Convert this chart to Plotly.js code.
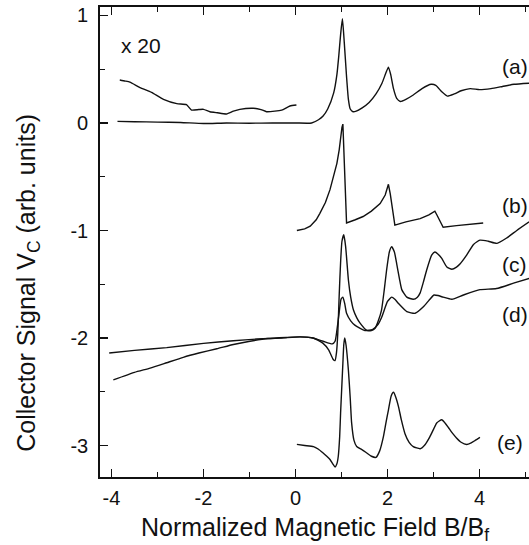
<!DOCTYPE html>
<html>
<head>
<meta charset="utf-8">
<script src="https://cdn.plot.ly/plotly-3.0.1.min.js"></script>
<style>html,body{margin:0;padding:0;background:#fff;overflow:hidden}</style>
</head>
<body>
<div id="chart" style="width:529px;height:545px"></div>
<script>
// Curve (a), main trace
const aX = [-3.87,-3.5,-3.0,-2.5,-2.0,-1.5,-1.0,-0.5,0.0,0.35,0.5,0.6,0.7,0.83,0.9,0.94,0.98,1.02,1.06,1.11,1.15,1.19,1.25,1.32,1.45,1.6,1.75,1.88,1.96,2.02,2.07,2.13,2.2,2.28,2.4,2.56,2.75,2.95,3.05,3.18,3.3,3.45,3.6,3.8,4.0,4.25,4.5,4.75,5.08];
const aY = [0.015,0.012,0.008,0.005,-0.005,0.0,-0.002,0.0,0.0,0.0,0.03,0.065,0.13,0.28,0.45,0.62,0.82,0.97,0.75,0.43,0.22,0.13,0.105,0.11,0.14,0.19,0.27,0.37,0.46,0.52,0.45,0.32,0.23,0.20,0.22,0.26,0.32,0.36,0.35,0.29,0.25,0.27,0.30,0.32,0.31,0.32,0.34,0.36,0.37];
// Curve (a), x20 magnified part
const a20X = [-3.82,-3.7,-3.6,-3.38,-3.13,-2.87,-2.58,-2.37,-2.26,-2.1,-2.0,-1.86,-1.7,-1.5,-1.35,-1.21,-0.92,-0.75,-0.63,-0.45,-0.30,-0.12,0.02];
const a20Y = [0.40,0.39,0.38,0.33,0.285,0.22,0.18,0.17,0.12,0.125,0.127,0.105,0.095,0.084,0.11,0.127,0.137,0.125,0.105,0.11,0.12,0.158,0.167];
// Curve (b)
const bX = [0.03,0.2,0.32,0.45,0.53,0.65,0.75,0.84,0.90,0.95,0.98,1.01,1.03,1.06,1.11,1.3,1.47,1.65,1.84,1.95,2.02,2.06,2.16,2.4,2.71,2.9,3.03,3.08,3.21,3.5,3.8,4.08];
const bY = [-1.0,-0.985,-0.96,-0.9,-0.84,-0.74,-0.62,-0.48,-0.375,-0.25,-0.13,-0.04,-0.01,-0.4,-0.93,-0.9,-0.87,-0.82,-0.75,-0.67,-0.57,-0.66,-0.95,-0.92,-0.89,-0.855,-0.82,-0.86,-0.97,-0.955,-0.94,-0.93];
// Curve (c)
const cX = [-3.96,-3.5,-3.16,-2.8,-2.44,-2.1,-1.71,-1.35,-0.99,-0.6,-0.2,0.1,0.38,0.6,0.72,0.82,0.86,0.89,0.92,0.95,0.98,1.01,1.05,1.09,1.15,1.2,1.26,1.33,1.40,1.55,1.65,1.73,1.8,1.87,1.93,1.98,2.04,2.09,2.15,2.20,2.26,2.31,2.42,2.56,2.65,2.71,2.78,2.85,2.96,3.03,3.1,3.18,3.29,3.40,3.5,3.58,3.72,3.87,4.01,4.19,4.38,4.59,4.81,5.08];
const cY = [-2.39,-2.32,-2.28,-2.23,-2.18,-2.14,-2.10,-2.06,-2.03,-2.005,-1.995,-1.99,-2.0,-2.05,-2.11,-2.2,-2.21,-2.14,-1.95,-1.60,-1.30,-1.10,-1.04,-1.15,-1.46,-1.62,-1.74,-1.81,-1.86,-1.93,-1.93,-1.91,-1.84,-1.74,-1.55,-1.37,-1.2,-1.15,-1.2,-1.31,-1.45,-1.55,-1.62,-1.64,-1.62,-1.58,-1.48,-1.37,-1.23,-1.20,-1.22,-1.26,-1.34,-1.36,-1.34,-1.31,-1.23,-1.13,-1.09,-1.10,-1.12,-1.07,-1.0,-0.92];
// Curve (d)
const dX = [-4.05,-3.5,-2.8,-2.0,-1.35,-0.84,-0.3,0.1,0.38,0.6,0.8,0.86,0.9,0.95,0.99,1.03,1.07,1.11,1.2,1.29,1.51,1.68,1.8,1.88,2.0,2.09,2.16,2.24,2.42,2.6,2.78,2.9,3.01,3.1,3.21,3.40,3.65,4.01,4.37,4.74,5.08];
const dY = [-2.14,-2.115,-2.09,-2.05,-2.025,-2.01,-2.0,-1.99,-2.0,-2.03,-2.055,-2.03,-1.93,-1.76,-1.64,-1.62,-1.68,-1.77,-1.84,-1.88,-1.93,-1.92,-1.87,-1.80,-1.66,-1.62,-1.64,-1.68,-1.755,-1.77,-1.71,-1.65,-1.60,-1.605,-1.62,-1.64,-1.60,-1.55,-1.54,-1.49,-1.445];
// Curve (e)
const eX = [0.03,0.2,0.39,0.5,0.60,0.68,0.75,0.81,0.86,0.9,0.93,0.96,0.98,1.01,1.03,1.05,1.07,1.1,1.15,1.19,1.22,1.27,1.33,1.45,1.55,1.65,1.75,1.83,1.91,1.97,2.02,2.08,2.13,2.18,2.24,2.3,2.38,2.47,2.56,2.71,2.82,2.92,3.0,3.07,3.18,3.25,3.32,3.42,3.50,3.6,3.72,3.82,3.90,4.01];
const eY = [-2.99,-3.0,-3.01,-3.035,-3.07,-3.1,-3.13,-3.17,-3.20,-3.17,-3.10,-2.92,-2.70,-2.42,-2.235,-2.06,-2.0,-2.07,-2.30,-2.56,-2.79,-2.95,-3.01,-3.04,-3.07,-3.1,-3.11,-3.05,-2.92,-2.78,-2.67,-2.54,-2.505,-2.55,-2.64,-2.76,-2.89,-2.97,-3.01,-3.03,-2.99,-2.92,-2.85,-2.79,-2.76,-2.79,-2.83,-2.89,-2.93,-2.97,-2.99,-2.975,-2.955,-2.925];

const xTickVals = [-4,-2,0,2,4];
const xTickText = ["-4","-2","0","2","4"];
const yTickVals = [1,0,-1,-2,-3];
const yTickText = ["1","0","-1","-2","-3"];
const curveLabels = ["(a)","(b)","(c)","(d)","(e)"];

const FONT = "Liberation Sans, Arial, Helvetica, sans-serif";
const lineStyle = {color:"#111", width:1.4, shape:"spline", smoothing:0.5};
const mk = (x,y,shape) => ({x:x, y:y, type:"scatter", mode:"lines", hoverinfo:"skip",
  line:Object.assign({}, lineStyle, shape ? {shape:shape} : {})});

const traces = [mk(aX,aY), mk(a20X,a20Y), mk(bX,bY,"linear"), mk(cX,cY), mk(dX,dY), mk(eX,eY)];

const labelPos = [[4.77,0.53],[4.77,-0.77],[4.77,-1.32],[4.77,-1.78],[4.66,-2.97]];
const annotations = curveLabels.map((t,i) => ({text:t, x:labelPos[i][0], y:labelPos[i][1], xref:"x", yref:"y",
  showarrow:false, font:{family:FONT, size:21, color:"#111"}}));
annotations.push({text:"x 20", x:-3.36, y:0.725, xref:"x", yref:"y", showarrow:false,
  font:{family:FONT, size:21, color:"#111"}});
annotations.push({text:"Collector Signal V<sub>C</sub> (arb. units)", textangle:-90, x:-0.168, y:0.413,
  xref:"paper", yref:"paper", showarrow:false, xanchor:"center", yanchor:"middle",
  font:{family:FONT, size:25, color:"#111"}});
annotations.push({text:"Normalized Magnetic Field B/B<sub>f</sub>", x:0.501, y:-0.11,
  xref:"paper", yref:"paper", showarrow:false, xanchor:"center", yanchor:"middle",
  font:{family:FONT, size:25, color:"#111"}});

const layout = {
  width:529, height:545,
  margin:{l:100, r:0, t:7, b:68},
  paper_bgcolor:"#fff", plot_bgcolor:"#fff",
  showlegend:false,
  font:{family:FONT, color:"#111"},
  xaxis:{range:[-4.25,5.076], showgrid:false, zeroline:false, showline:true, linecolor:"#111", linewidth:1.8,
    mirror:"ticks", ticks:"inside", ticklen:8, tickwidth:1.5, tickcolor:"#111",
    tickvals:xTickVals, ticktext:xTickText, tickfont:{family:FONT, size:20, color:"#111"},
    ticklabelstandoff:2,
    minor:{dtick:1, tick0:0, ticks:"inside", ticklen:5, tickwidth:1.3, tickcolor:"#111", showgrid:false}},
  yaxis:{range:[-3.293,1.079], showgrid:false, zeroline:false, showline:true, linecolor:"#111", linewidth:1.8,
    mirror:false, ticks:"inside", ticklen:8, tickwidth:1.5, tickcolor:"#111",
    tickvals:yTickVals, ticktext:yTickText, tickfont:{family:FONT, size:20, color:"#111"},
    ticklabelstandoff:6,
    minor:{dtick:0.5, tick0:0, ticks:"inside", ticklen:5, tickwidth:1.3, tickcolor:"#111", showgrid:false}},
  annotations:annotations
};

Plotly.newPlot("chart", traces, layout, {staticPlot:true, displayModeBar:false});
</script>
</body>
</html>
